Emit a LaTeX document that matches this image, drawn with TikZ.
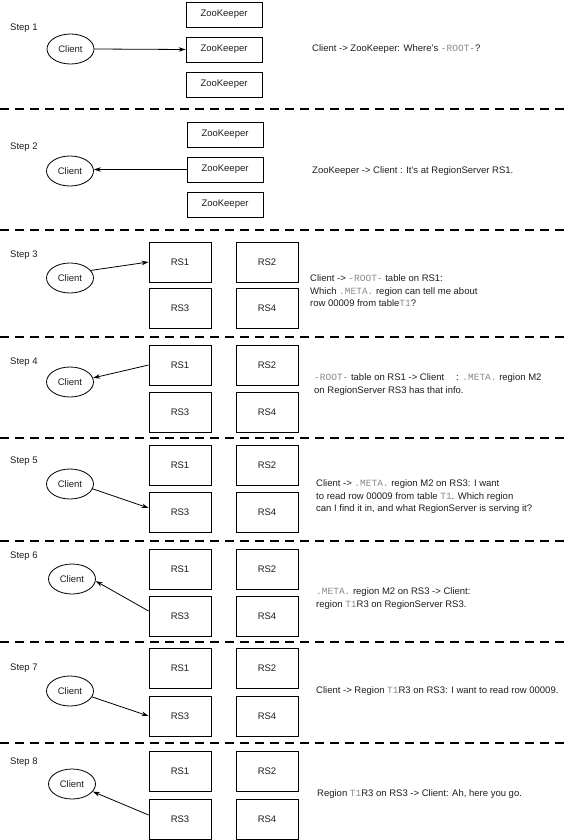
\documentclass[tikz,border=0pt]{standalone}
\usepackage{fontspec}
\setmainfont{Liberation Sans}
\newfontfamily\codefont{Liberation Mono}
\usetikzlibrary{arrows.meta,shapes.geometric}
\definecolor{codegray}{HTML}{8A8A8A}
\definecolor{ink}{HTML}{1E1E1E}
\newcommand{\cd}[1]{{\codefont\color{codegray}#1}}
\begin{document}
\begin{tikzpicture}[x=1pt,y=-1pt,
  font=\fontsize{9.5}{12.5}\selectfont,
  rsbox/.style={draw, line width=0.8pt, minimum width=62pt, minimum height=40pt, inner sep=0pt, text=ink},
  zkbox/.style={draw, line width=0.8pt, minimum width=76pt, minimum height=25pt, inner sep=0pt, text=ink},
  client/.style={ellipse, draw, line width=0.8pt, minimum width=47pt, minimum height=30pt, inner sep=0pt, text=ink},
  sepline/.style={line width=1.1pt, dash pattern=on 9pt off 6pt},
  arr/.style={-{Stealth[length=7pt,width=4.5pt]}, line width=0.8pt},
  msg/.style={anchor=west, align=left, inner sep=0pt, text=ink},
  steplabel/.style={anchor=west, inner sep=0pt, text=ink}]
\path[fill=white] (0,0) rectangle (569,840);
\useasboundingbox (0,0) rectangle (569,840);

% separators
\foreach \yy/\nm in {109/s1,230/s2,337/s3,438/s4,541/s5,642/s6,743/s7}{
  \coordinate (\nm l) at (0,\yy);
  \coordinate (\nm r) at (569,\yy);
  \draw[sepline] (\nm l) -- (\nm r);
}

% Step 1
\node[steplabel] (l1) at (10,28) {Step 1};
\node[zkbox] (z1a) at (224,14.5) {ZooKeeper};
\node[zkbox] (z1b) at (224,49.5) {ZooKeeper};
\node[zkbox] (z1c) at (224,84.5) {ZooKeeper};
\node[client] (c1) at (70.5,49) {Client};
\draw[arr] (c1.east) -- (z1b.west);
\node[msg] (m1) at (312,49) {Client -> ZooKeeper: Where's \cd{-ROOT-}?};

% Step 2
\node[steplabel] (l2) at (10,147) {Step 2};
\node[zkbox] (z2a) at (225,134.5) {ZooKeeper};
\node[zkbox] (z2b) at (225,169.5) {ZooKeeper};
\node[zkbox] (z2c) at (225,204.5) {ZooKeeper};
\node[client] (c2) at (70,171) {Client};
\draw[arr] (z2b.west) -- (c2.east |- z2b.west);
\node[msg] (m2) at (312,171) {ZooKeeper -> Client : It's at RegionServer RS1.};

% Step 3
\node[steplabel] (l3) at (10,255) {Step 3};
\node[rsbox] (r3a) at (180,262) {RS1};
\node[rsbox] (r3b) at (267,262) {RS2};
\node[rsbox] (r3c) at (180,308.5) {RS3};
\node[rsbox] (r3d) at (267,308.5) {RS4};
\node[client] (c3) at (70,278) {Client};
\draw[arr] (c3.20) -- (r3a.west);
\node[msg] (m3) at (310,291) {Client -> \cd{-ROOT-} table on RS1:\\Which \cd{.META.} region can tell me about\\row 00009 from table\cd{T1}?};

% Step 4
\node[steplabel] (l4) at (10,362) {Step 4};
\node[rsbox] (r4a) at (180,365) {RS1};
\node[rsbox] (r4b) at (267,365) {RS2};
\node[rsbox] (r4c) at (180,412) {RS3};
\node[rsbox] (r4d) at (267,412) {RS4};
\node[client] (c4) at (70,382) {Client};
\draw[arr] (r4a.west) -- (c4.10);
\node[msg] (m4) at (314,384.5) {\cd{-ROOT-} table on RS1 -> Client\hspace{12pt}: \cd{.META.} region M2\\on RegionServer RS3 has that info.};

% Step 5
\node[steplabel] (l5) at (10,461) {Step 5};
\node[rsbox] (r5a) at (180,465) {RS1};
\node[rsbox] (r5b) at (267,465) {RS2};
\node[rsbox] (r5c) at (180,512) {RS3};
\node[rsbox] (r5d) at (267,512) {RS4};
\node[client] (c5) at (70,484) {Client};
\draw[arr] (c5.-12) -- ([yshift=4pt]r5c.west);
\node[msg] (m5) at (316,497) {Client -> \cd{.META.} region M2 on RS3: I want\\to read row 00009 from table \cd{T1}. Which region\\can I find it in, and what RegionServer is serving it?};

% Step 6
\node[steplabel] (l6) at (10,556) {Step 6};
\node[rsbox] (r6a) at (180,569.5) {RS1};
\node[rsbox] (r6b) at (267,569.5) {RS2};
\node[rsbox] (r6c) at (180,616) {RS3};
\node[rsbox] (r6d) at (267,616) {RS4};
\node[client] (c6) at (72,579) {Client};
\draw[arr] ([yshift=5pt]r6c.west) -- (c6.-5);
\node[msg] (m6) at (316,598.5) {\cd{.META.} region M2 on RS3 -> Client:\\region \cd{T1}R3 on RegionServer RS3.};

% Step 7
\node[steplabel] (l7) at (10,668) {Step 7};
\node[rsbox] (r7a) at (180,668.5) {RS1};
\node[rsbox] (r7b) at (267,668.5) {RS2};
\node[rsbox] (r7c) at (180,716) {RS3};
\node[rsbox] (r7d) at (267,716) {RS4};
\node[client] (c7) at (70,691) {Client};
\draw[arr] (c7.-15) -- (r7c.west);
\node[msg] (m7) at (316,691) {Client -> Region \cd{T1}R3 on RS3: I want to read row 00009.};

% Step 8
\node[steplabel] (l8) at (10,762) {Step 8};
\node[rsbox] (r8a) at (180,771.5) {RS1};
\node[rsbox] (r8b) at (267,771.5) {RS2};
\node[rsbox] (r8c) at (180,819) {RS3};
\node[rsbox] (r8d) at (267,819) {RS4};
\node[client] (c8) at (72,784) {Client};
\draw[arr] ([yshift=4pt]r8c.west) -- (c8.-20);
\node[msg] (m8) at (317,794) {Region \cd{T1}R3 on RS3 -> Client: Ah, here you go.};
\end{tikzpicture}
\end{document}
